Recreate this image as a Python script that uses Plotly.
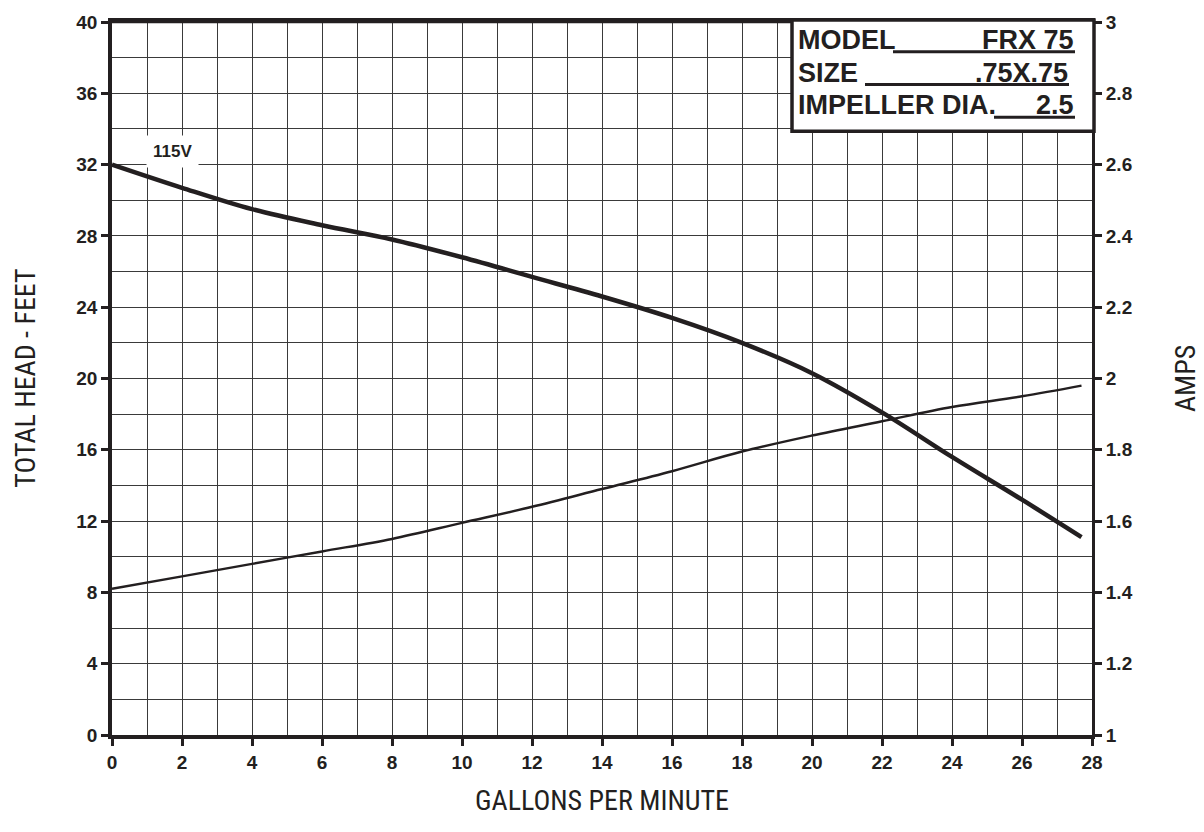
import plotly.graph_objects as go

# Data
gpm = [0, 2, 4, 6, 8, 10, 12, 14, 16, 18, 20, 22, 24, 26, 27.7]
head_ft = [32.0, 30.7, 29.5, 28.6, 27.8, 26.8, 25.7, 24.6, 23.4, 22.0, 20.3, 18.1, 15.6, 13.2, 11.1]
amps = [1.41, 1.445, 1.48, 1.515, 1.55, 1.595, 1.64, 1.69, 1.74, 1.795, 1.84, 1.88, 1.92, 1.95, 1.98]

x_ticks = list(range(0, 29, 2))
y_ticks = list(range(0, 41, 4))
amp_ticks = [1, 1.2, 1.4, 1.6, 1.8, 2, 2.2, 2.4, 2.6, 2.8, 3]
amp_labels = ["1", "1.2", "1.4", "1.6", "1.8", "2", "2.2", "2.4", "2.6", "2.8", "3"]

TICKFONT = dict(family="Liberation Sans, Arial, sans-serif", size=19, color="#231f20", weight="bold")
TITLEFONT = dict(family="Liberation Sans Narrow, Arial Narrow, Roboto Condensed, Liberation Sans, sans-serif", size=28, color="#231f20")
BOXFONT = dict(family="Liberation Sans, Arial, sans-serif", size=27, color="#231f20", weight="bold")
INK = "#231f20"

fig = go.Figure()
fig.add_trace(go.Scatter(x=gpm, y=head_ft, mode="lines", line=dict(color=INK, width=4.5, shape="spline"),
                         showlegend=False, hoverinfo="skip"))
fig.add_trace(go.Scatter(x=gpm, y=amps, mode="lines", line=dict(color=INK, width=2.5, shape="spline"),
                         yaxis="y2", showlegend=False, hoverinfo="skip"))

fig.update_layout(
    width=1204, height=832,
    margin=dict(l=112, r=112, t=17, b=97),
    paper_bgcolor="white", plot_bgcolor="white",
    xaxis=dict(range=[0, 28], tickvals=x_ticks, ticktext=[str(v) for v in x_ticks],
               ticks="outside", ticklen=7, tickwidth=3, tickcolor=INK,
               showgrid=True, gridcolor="#3a3a3a", gridwidth=1.2,
               minor=dict(dtick=1, showgrid=True, gridcolor="#3a3a3a", gridwidth=1.2),
               showline=True, linecolor=INK, linewidth=3.5, mirror=True,
               tickfont=TICKFONT, zeroline=False, fixedrange=True),
    yaxis=dict(range=[0, 40], tickvals=y_ticks, ticktext=[str(v) for v in y_ticks],
               ticks="outside", ticklen=7, tickwidth=2.5, tickcolor=INK,
               showgrid=True, gridcolor="#3a3a3a", gridwidth=1.2,
               minor=dict(dtick=2, showgrid=True, gridcolor="#3a3a3a", gridwidth=1.2),
               showline=True, linecolor=INK, linewidth=3.5,
               tickfont=TICKFONT, zeroline=False, fixedrange=True),
    yaxis2=dict(range=[1, 3], tickvals=amp_ticks, ticktext=amp_labels, overlaying="y", side="right",
                ticks="outside", ticklen=7, tickwidth=2.5, tickcolor=INK,
                showgrid=False, showline=True, linecolor=INK, linewidth=3,
                tickfont=TICKFONT, zeroline=False, fixedrange=True),
)

# top border
fig.add_shape(type="line", xref="paper", yref="paper", x0=0, x1=1, y0=1, y1=1,
              line=dict(color=INK, width=2.5))

# Axis titles
fig.add_annotation(text="GALLONS PER MINUTE", xref="paper", yref="paper", x=0.5, y=-0.092,
                   yanchor="middle", xanchor="center", showarrow=False, font=TITLEFONT)
fig.add_annotation(text="TOTAL HEAD - FEET", xref="paper", yref="paper", x=-0.0885, y=0.5,
                   xanchor="center", yanchor="middle", textangle=-90, showarrow=False, font=TITLEFONT)
fig.add_annotation(text="AMPS", xref="paper", yref="paper", x=1.0955, y=0.5,
                   xanchor="center", yanchor="middle", textangle=-90, showarrow=False, font=TITLEFONT)

# 115V label
fig.add_annotation(text="115V", x=1.72, y=32.75, xref="x", yref="y", showarrow=False,
                   bgcolor="white", borderpad=6, font=dict(family="Liberation Sans, Arial, sans-serif",
                   size=17, color=INK, weight="bold"))

# Model box (paper coordinates: width 980 px, height 718 px)
def px_x(p):
    return (p - 112) / 980.0

def px_y(p):
    return (735 - p) / 718.0

fig.add_shape(type="rect", xref="paper", yref="paper", x0=px_x(792), x1=px_x(1094), y0=px_y(127), y1=px_y(15),
              fillcolor="white", line=dict(color=INK, width=3.5), layer="above")

rows = [("MODEL", "FRX 75", 35, 893, 1075), ("SIZE", ".75X.75", 68, 865, 1069), ("IMPELLER DIA.", "2.5", 101, 994, 1075)]
for label, value, yc, u0, u1 in rows:
    fig.add_annotation(text=label, xref="paper", yref="paper", x=px_x(796), y=px_y(yc), xanchor="left",
                       yanchor="middle", showarrow=False, font=BOXFONT)
    fig.add_annotation(text=value, xref="paper", yref="paper", x=px_x(u1 + 1), y=px_y(yc), xanchor="right",
                       yanchor="middle", showarrow=False, font=BOXFONT)
    fig.add_shape(type="line", xref="paper", yref="paper", x0=px_x(u0), x1=px_x(u1), y0=px_y(yc + 12),
                  y1=px_y(yc + 12), line=dict(color=INK, width=3), layer="above")

fig.write_html("out.html", config={"displayModeBar": False},
               post_script="document.body.style.margin='0px';document.body.style.padding='0px';")
